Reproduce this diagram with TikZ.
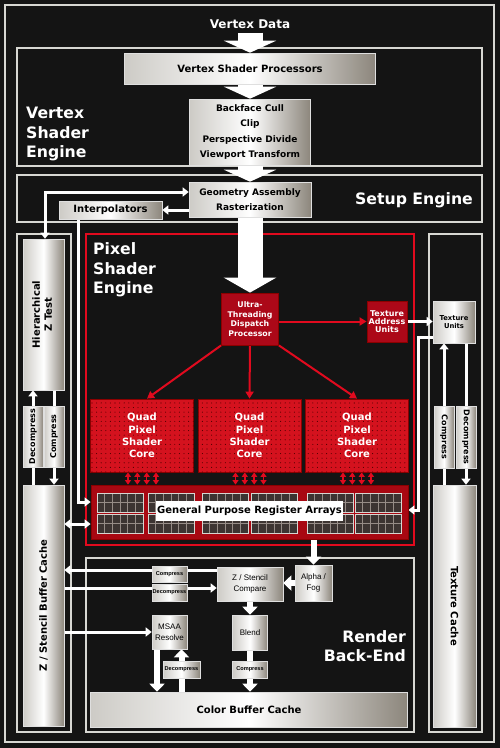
\documentclass[tikz,border=0pt]{standalone}
\usepackage{fontspec}
\setmainfont{DejaVu Sans}
\newfontfamily\arialfont{Liberation Sans}
\usetikzlibrary{arrows.meta}
\usetikzlibrary{patterns.meta}
\definecolor{bg}{RGB}{20,20,20}
\definecolor{frameline}{RGB}{215,215,210}
\definecolor{redframe}{RGB}{225,10,30}
\definecolor{redcore}{RGB}{212,18,30}
\definecolor{reddark}{RGB}{172,8,24}
\definecolor{redgpr}{RGB}{168,8,18}
\definecolor{metaldark}{RGB}{140,134,124}
\definecolor{metallight}{RGB}{205,203,198}
\definecolor{cellfill}{RGB}{60,52,50}
\definecolor{cellline}{RGB}{150,140,135}
\pgfdeclarelayer{back}
\pgfsetlayers{back,main}
\tikzset{
	frame/.style={draw=frameline,line width=1.2pt},
	redframe/.style={draw=redframe,line width=1.5pt},
	metal/.style={draw=white!75!gray,line width=0.6pt,left color=metallight,right color=metaldark,middle color=white,inner sep=0pt,align=center,text=black,font=\bfseries},
	redbox/.style={draw=red!55!black,line width=0.8pt,fill=reddark,inner sep=0pt,align=center,text=white,font=\bfseries},
	corebox/.style={redbox,fill=redcore,postaction={pattern={Dots[distance=4.6pt,radius=0.55pt]},pattern color=black!70!red}},
	secname/.style={text=white,inner sep=0pt,align=left,font=\fontsize{15.7}{19.5}\selectfont\bfseries},
	fbig/.style={font=\fontsize{12}{14}\selectfont\bfseries},
	fvsp/.style={font=\fontsize{10}{12}\selectfont\bfseries},
	fnine/.style={font=\fontsize{9}{15.3}\selectfont\bfseries},
	ften/.style={font=\fontsize{10}{12}\selectfont\bfseries},
	feight/.style={font=\fontsize{8}{10}\selectfont\bfseries},
	ftu/.style={font=\fontsize{6.8}{8.5}\selectfont\bfseries},
	fdisp/.style={font=\fontsize{7.8}{9.4}\selectfont\bfseries},
	ftau/.style={font=\fontsize{8}{8.3}\selectfont\bfseries},
	fcore/.style={font=\fontsize{10}{12.3}\selectfont\bfseries},
	fsmall/.style={font=\arialfont\fontsize{8}{11}\selectfont},
	ftiny/.style={font=\arialfont\bfseries\fontsize{5.6}{7}\selectfont},
	bigarrow/.style={draw=white,line width=25pt,-{Triangle[width=52pt,length=12pt]}},
	midarrow/.style={draw=white,line width=6pt,>={Triangle[width=15pt,length=8pt]}},
	wire/.style={draw=white,line width=3pt,>={Triangle[width=9pt,length=6pt]}},
	redarrow/.style={draw=redframe,line width=2pt,>={Triangle[width=8pt,length=7pt]}},
	redlink/.style={draw=redframe,line width=1.5pt,>={Triangle[width=6pt,length=4.5pt]}}
}
\newcommand{\metalnode}[7][]{\node[metal,#1,minimum width=#5pt,minimum height=#6pt] (#4) at (#2,#3) {#7};}
\newcommand{\rednode}[7][]{\node[redbox,#1,minimum width=#5pt,minimum height=#6pt] (#4) at (#2,#3) {#7};}

\begin{document}
\begin{tikzpicture}[x=1pt,y=-1pt]
\useasboundingbox (0,0) rectangle (500,748);
\begin{pgfonlayer}{back}
\fill[bg] (0,0) rectangle (500,748);
\draw[frame] (5,5) rectangle (494,742);
\draw[frame] (17,48) rectangle (482,166);
\draw[frame] (17,175) rectangle (482,222);
\draw[frame] (17,234) rectangle (71,732);
\draw[frame] (429,234) rectangle (482,732);
\draw[frame] (86,558) rectangle (414,732);
\draw[redframe] (86,234) rectangle (414,545);
\end{pgfonlayer}

\node[text=white,inner sep=0pt,fbig] (vdata) at (250,24) {Vertex Data};
\node[secname,anchor=west] (vse) at (26,134) {Vertex\\Shader\\Engine};
\node[secname] (setup) at (414,200) {Setup Engine};
\node[secname,anchor=west] (pse) at (93,270) {Pixel\\Shader\\Engine};
\node[secname,anchor=east,align=right] (rbe) at (406,646) {Render\\Back-End};

\metalnode[fvsp]{250}{68.5}{VSP}{251}{31}{Vertex Shader Processors}
\metalnode[fnine]{250}{132}{BFC}{121}{66}{Backface Cull\\Clip\\Perspective Divide\\Viewport Transform}
\metalnode[fnine]{250}{199.5}{GA}{122}{35}{Geometry Assembly\\Rasterization}
\metalnode[ften]{110.5}{210}{Interp}{103}{18}{Interpolators}

\metalnode[ften]{43.5}{314.5}{HZ}{41}{151}{\rotatebox{90}{\begin{tabular}{@{}c@{}}Hierarchical\\Z Test\end{tabular}}}
\metalnode[feight]{33}{436.5}{DecL}{20}{61}{\rotatebox{90}{Decompress}}
\metalnode[feight]{54}{436.5}{ComL}{20}{61}{\rotatebox{90}{Compress}}
\metalnode[ften]{43.5}{605.5}{ZBC}{41}{241}{\rotatebox{90}{Z / Stencil Buffer Cache}}

\metalnode[ftu]{454}{322}{TU}{42}{42}{Texture\\Units}
\metalnode[feight]{444}{437}{ComR}{20}{62}{\rotatebox{-90}{Compress}}
\metalnode[feight]{466}{437}{DecR}{20}{62}{\rotatebox{-90}{Decompress}}
\metalnode[ften]{454.5}{606}{TC}{43}{242}{\rotatebox{-90}{Texture Cache}}

\rednode[fdisp]{250}{319}{UTDP}{57}{52}{Ultra-\\Threading\\Dispatch\\Processor}
\rednode[ftau]{387}{321.5}{TAU}{40}{41}{Texture\\Address\\Units}
\rednode[corebox,fcore]{142}{435.5}{Core1}{103}{73}{Quad\\Pixel\\Shader\\Core}
\rednode[corebox,fcore]{249.5}{435.5}{Core2}{103}{73}{Quad\\Pixel\\Shader\\Core}
\rednode[corebox,fcore]{357}{435.5}{Core3}{103}{73}{Quad\\Pixel\\Shader\\Core}

\rednode[fill=redgpr]{249.5}{512}{GPR}{317}{54}{}
\foreach \gx in {97,148,202,251,307,355}
\foreach \gy in {493,514} {
	\fill[cellfill] (\gx,\gy) rectangle ++(46,19);
	\foreach \i in {1,...,5}
		\draw[cellline,line width=0.8pt] ({\gx+\i*7.67},\gy) -- ++(0,19);
	\draw[cellline,line width=0.8pt] (\gx,{\gy+9.5}) -- ++(46,0);
	\draw[frameline,line width=1pt] (\gx,\gy) rectangle ++(46,19);
}
\node[fill=white,inner sep=1pt,minimum width=187pt,minimum height=20pt,ften] (GPRlbl) at (249.5,511) {General Purpose Register Arrays};

\metalnode[fsmall]{313.5}{583}{AF}{37}{36}{Alpha /\\Fog}
\metalnode[fsmall]{250}{584}{ZSC}{66}{34}{Z / Stencil\\Compare}
\metalnode[ftiny]{169.5}{574}{ComB}{35}{16}{Compress}
\metalnode[ftiny]{169.5}{592.5}{DecB}{35}{17}{Decompress}
\metalnode[fsmall]{169.5}{632}{MSAA}{35}{34}{MSAA\\Resolve}
\metalnode[fsmall]{250}{632.5}{Blend}{35}{35}{Blend}
\metalnode[ftiny]{250}{669.5}{ComBl}{35}{17}{Compress}
\metalnode[ftiny]{181.5}{669.5}{DecM}{37}{17}{Decompress}
\metalnode[ften]{249}{709.5}{CBC}{317}{35}{Color Buffer Cache}

\begin{pgfonlayer}{back}
\draw[bigarrow] ([yshift=-4pt]vdata.south) -- (VSP.north);
\draw[bigarrow] (VSP.south) -- (BFC.north);
\draw[bigarrow] (BFC.south) -- (GA.north);
\draw[bigarrow,-{Triangle[width=52pt,length=15pt]}] (GA.south) -- (UTDP.north);
\draw[wire,<->] ([yshift=7.5pt]GA.west) -| ([xshift=1.5pt]HZ.north);
\draw[wire,->] (GA.west |- Interp.east) -- (Interp.east);
\draw[wire,->] ([xshift=-32.5pt]Interp.south) |- ([yshift=10pt]GPR.west);
\draw[wire,->] (ZBC.north -| DecL) -- (HZ.south -| DecL);
\draw[wire,->] (HZ.south -| ComL) -- (ZBC.north -| ComL);
\draw[wire,<->] ([yshift=-12pt]GPR.west -| ZBC.east) -- ([yshift=-12pt]GPR.west);
\draw[redarrow,->] (UTDP.east |- TAU.west) -- (TAU.west);
\draw[wire,->] (TAU.east) -- (TAU.east -| TU.west);
\draw[wire,->] ([yshift=-15pt]TU.west) -| ([xshift=10pt,yshift=2pt]GPR.east) -- ([yshift=2pt]GPR.east);
\draw[wire,->] (TC.north -| ComR) -- (TU.south -| ComR);
\draw[wire,->] (TU.south -| DecR) -- (TC.north -| DecR);
\draw[redarrow,->] (UTDP.south west) -- ([xshift=5pt]Core1.north);
\draw[redarrow,->] (UTDP.south) -- (Core2.north);
\draw[redarrow,->] (UTDP.south east) -- (Core3.north);
\foreach \c in {Core1,Core2,Core3}
\foreach \dx in {-14,-4.7,4.7,14}
	\draw[redlink,<->] ([xshift=\dx pt]\c.south) -- ([xshift=\dx pt]\c.south |- GPR.north);
\draw[midarrow,->] (GPR.south -| AF.north) -- (AF.north);
\draw[midarrow,->] (AF.west) -- (AF.west -| ZSC.east);
\draw[wire,->] ([yshift=14pt]ZSC.west) -- ([yshift=14pt]ZSC.west -| ZBC.east);
\draw[wire,->] ([yshift=-4pt]ZSC.west -| ZBC.east) -- ([yshift=-4pt]ZSC.west);
\draw[wire,->] (MSAA.west -| ZBC.east) -- (MSAA.west);
\draw[midarrow,->] (ZSC.south) -- (Blend.north);
\draw[midarrow,->] (Blend.south) -- (Blend.south |- CBC.north);
\draw[midarrow,->] ([xshift=-12.5pt]MSAA.south) -- ([xshift=-12.5pt]MSAA.south |- CBC.north);
\draw[midarrow,->] (CBC.north -| DecM) -- (MSAA.south -| DecM);
\end{pgfonlayer}
\end{tikzpicture}
\end{document}
